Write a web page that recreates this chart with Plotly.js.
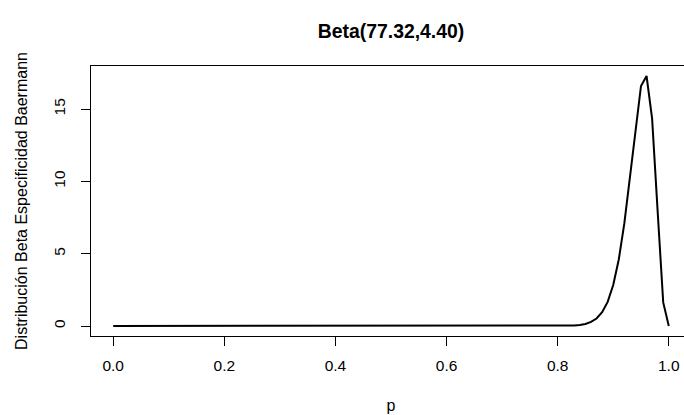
<!DOCTYPE html>
<html>
<head>
<meta charset="utf-8">
<script src="https://cdn.plot.ly/plotly-3.0.1.min.js"></script>
<style>
  html, body { margin: 0; padding: 0; background: #ffffff; overflow: hidden; }
  #chart { width: 700px; height: 415px; }
</style>
</head>
<body>
<div id="chart"></div>
<script>
// Grid of proportions p on [0, 1] in steps of 0.01
const p = [
  0.00, 0.01, 0.02, 0.03, 0.04, 0.05, 0.06, 0.07, 0.08, 0.09,
  0.10, 0.11, 0.12, 0.13, 0.14, 0.15, 0.16, 0.17, 0.18, 0.19,
  0.20, 0.21, 0.22, 0.23, 0.24, 0.25, 0.26, 0.27, 0.28, 0.29,
  0.30, 0.31, 0.32, 0.33, 0.34, 0.35, 0.36, 0.37, 0.38, 0.39,
  0.40, 0.41, 0.42, 0.43, 0.44, 0.45, 0.46, 0.47, 0.48, 0.49,
  0.50, 0.51, 0.52, 0.53, 0.54, 0.55, 0.56, 0.57, 0.58, 0.59,
  0.60, 0.61, 0.62, 0.63, 0.64, 0.65, 0.66, 0.67, 0.68, 0.69,
  0.70, 0.71, 0.72, 0.73, 0.74, 0.75, 0.76, 0.77, 0.78, 0.79,
  0.80, 0.81, 0.82, 0.83, 0.84, 0.85, 0.86, 0.87, 0.88, 0.89,
  0.90, 0.91, 0.92, 0.93, 0.94, 0.95, 0.96, 0.97, 0.98, 0.99,
  1.00
];

// Beta(77.32, 4.40) density at each p
const density = [
  0, 0, 0, 0, 0, 0, 0, 0, 0, 0,
  0, 0, 0, 0, 0, 0, 0, 0, 0, 0,
  0, 0, 0, 0, 0, 0, 0, 0, 0, 0,
  0, 0, 0, 0, 0, 0, 0, 0, 0, 0,
  0, 0, 0, 0, 0, 0, 0, 0, 0, 0,
  0, 0, 0, 0, 0, 0, 0, 0, 0, 0,
  0, 0, 0, 0, 0, 0, 0, 0, 0, 0,
  0, 0, 0, 0, 0, 0, 0, 0, 0, 0,
  0.00, 0.01, 0.02, 0.04, 0.07, 0.14, 0.28, 0.52, 0.95, 1.67,
  2.83, 4.60, 7.09, 10.28, 13.76, 16.60, 17.29, 14.34, 7.90, 1.63,
  0.00
];

const xTicks = [0, 0.2, 0.4, 0.6, 0.8, 1.0];
const xTickLabels = ["0.0", "0.2", "0.4", "0.6", "0.8", "1.0"];
const yTicks = [0, 5, 10, 15];
const yTickLabels = ["0", "5", "10", "15"];

const titleText = "Beta(77.32,4.40)";
const xLabel = "p";
const yLabel = "Distribución Beta Especificidad Baermann";

const yMax = Math.max(...density);
const font = "Liberation Sans, Arial, sans-serif";

const trace = {
  x: p,
  y: density,
  type: "scatter",
  mode: "lines",
  line: { color: "#000000", width: 2 },
  hoverinfo: "none"
};

const layout = {
  width: 700,
  height: 415,
  margin: { l: 91, r: 9, t: 66, b: 79 },
  paper_bgcolor: "#ffffff",
  plot_bgcolor: "#ffffff",
  showlegend: false,
  font: { family: font, size: 16, color: "#000000" },
  title: {
    text: "<b>" + titleText + "</b>",
    font: { family: font, size: 19.4, color: "#000000" },
    // centred over the plot box (x from 91 to 691 px)
    x: (91 + 691) / 2 / 700, xref: "container", xanchor: "center",
    y: 1 - 31 / 415, yref: "container", yanchor: "middle"
  },
  xaxis: {
    range: [-0.04, 1.04],
    tickvals: xTicks,
    ticktext: xTickLabels,
    ticks: "outside",
    ticklen: 9,
    tickwidth: 1,
    tickcolor: "#000000",
    showline: true,
    mirror: true,
    linecolor: "#000000",
    linewidth: 1,
    showgrid: false,
    zeroline: false,
    tickfont: { family: font, size: 15.5, color: "#000000" },
    ticklabelstandoff: 6,
    title: { text: xLabel, font: { family: font, size: 16, color: "#000000" }, standoff: 27 }
  },
  yaxis: {
    range: [-0.04 * yMax, 1.04 * yMax],
    tickvals: yTicks,
    ticktext: yTickLabels,
    tickangle: -90,
    ticks: "outside",
    ticklen: 9,
    tickwidth: 1,
    tickcolor: "#000000",
    showline: true,
    mirror: true,
    linecolor: "#000000",
    linewidth: 1,
    showgrid: false,
    zeroline: false,
    tickfont: { family: font, size: 15.5, color: "#000000" },
    ticklabelstandoff: 10,
    title: { text: yLabel, font: { family: font, size: 16, color: "#000000" }, standoff: 19 }
  }
};

Plotly.newPlot("chart", [trace], layout, { staticPlot: true, displayModeBar: false });
</script>
</body>
</html>
